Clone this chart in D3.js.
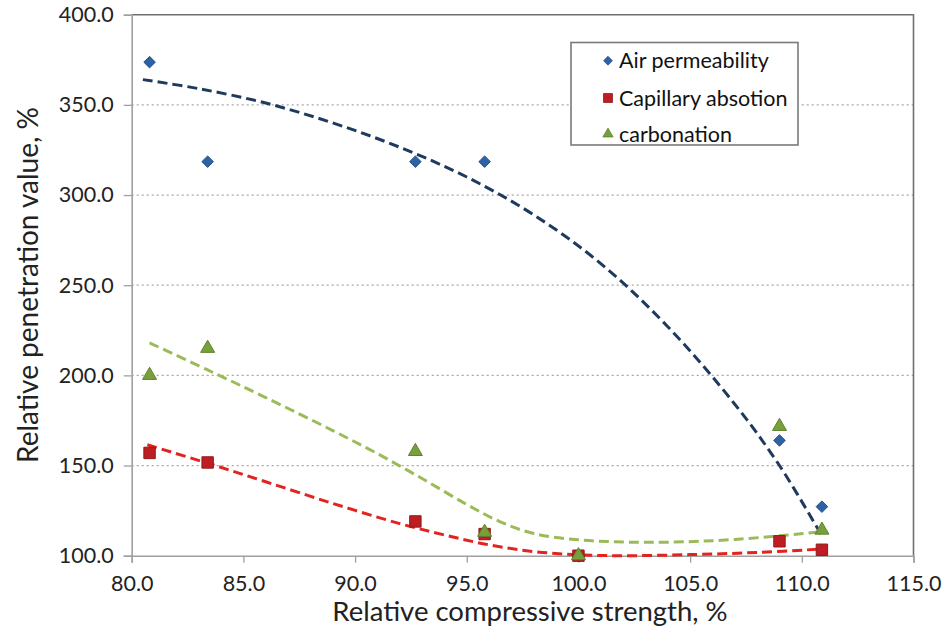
<!DOCTYPE html>
<html>
<head>
<meta charset="utf-8">
<script src="https://cdn.jsdelivr.net/npm/d3@7"></script>
<style>
  html, body { margin: 0; padding: 0; background: #fff; }
  svg { display: block; }
  text { font-family: Lato, "Open Sans", sans-serif; }
</style>
</head>
<body>
<svg id="chart" width="946" height="642"></svg>
<script>
// Relative compressive strength (%) for each mix
const strength = [80.8, 83.4, 92.7, 95.8, 100.0, 109.0, 110.9];

// Relative penetration values (%) per property
const airPermeability = [373.7, 318.5, 318.5, 318.5, 100.0, 163.9, 127.2];
const capillaryAbsorption = [157.0, 151.7, 119.0, 112.0, 100.0, 108.0, 103.3];
const carbonation = [200.0, 215.0, 157.8, 113.0, 100.0, 171.7, 114.2];

const seriesNames = ["Air permeability", "Capillary absotion", "carbonation"];

// Trendline values at sampled strengths
const airTrendX = [80.5, 83, 86, 89, 92, 95, 98, 101, 104, 107, 109, 110.9];
const airTrendY = [364, 359, 351, 340, 326.5, 310, 289, 262, 227, 184, 150, 111];
const capTrendX = [80.7, 83.4, 86, 89, 92, 94, 96, 98, 100, 102, 105, 108, 110.9];
const capTrendY = [161.5, 151.3, 141, 129, 117.8, 111.5, 106, 102.3, 100.5, 100, 100.6, 101.8, 103.7];
const carbTrendX = [80.8, 83.4, 86, 89, 91, 93, 95, 96.5, 98, 100, 102, 104, 107, 110.9];
const carbTrendY = [218, 203, 187.7, 169.4, 156.6, 142.8, 128.4, 118.8, 112.3, 108.8, 107.6, 107.5, 109, 113.3];

const xTicks = [80, 85, 90, 95, 100, 105, 110, 115];
const yTicks = [100, 150, 200, 250, 300, 350, 400];

const svg = d3.select("#chart");
const plot = { left: 131.7, right: 913.5, top: 14.7, bottom: 555.7 };

const x = d3.scaleLinear().domain([80, 115]).range([plot.left, plot.right]);
const y = d3.scaleLinear().domain([100, 400]).range([plot.bottom, plot.top]);

// Horizontal dotted gridlines
svg.append("g")
  .selectAll("line")
  .data(yTicks.filter(v => v > 100 && v < 400))
  .join("line")
  .attr("x1", plot.left).attr("x2", plot.right)
  .attr("y1", d => y(d)).attr("y2", d => y(d))
  .attr("stroke", "#a6a6a6").attr("stroke-width", 1.3)
  .attr("stroke-dasharray", "2,3");

// Plot frame: top and right edges
svg.append("path")
  .attr("d", `M${plot.left},${plot.top}H${plot.right}V${plot.bottom}`)
  .attr("fill", "none").attr("stroke", "#707070").attr("stroke-width", 1.6);

// Axes
const xAxis = svg.append("g")
  .attr("transform", `translate(0,${plot.bottom})`)
  .call(d3.axisBottom(x).tickValues(xTicks).tickFormat(d3.format(".1f")).tickSize(7).tickPadding(13));
const yAxis = svg.append("g")
  .attr("transform", `translate(${plot.left},0)`)
  .call(d3.axisLeft(y).tickValues(yTicks).tickFormat(d3.format(".1f")).tickSize(8).tickPadding(10));

[xAxis, yAxis].forEach(g => {
  g.select(".domain").attr("stroke", "#a0a0a0").attr("stroke-width", 1.6);
  g.selectAll(".tick line").attr("stroke", "#a0a0a0").attr("stroke-width", 1.3);
  g.selectAll(".tick text")
    .attr("fill", "#222")
    .style("font-family", "Lato, sans-serif")
    .style("font-size", "21.5px");
});

// Axis titles
svg.append("text")
  .attr("x", 530).attr("y", 621)
  .attr("text-anchor", "middle")
  .attr("fill", "#222")
  .style("font-size", "27.5px")
  .text("Relative compressive strength, %");
svg.append("text")
  .attr("transform", "translate(38,285) rotate(-90)")
  .attr("text-anchor", "middle")
  .attr("fill", "#222")
  .style("font-size", "28px")
  .text("Relative penetration value, %");

// Trendlines
const trends = [
  { xs: airTrendX, ys: airTrendY, color: "#1f3a5f" },
  { xs: carbTrendX, ys: carbTrendY, color: "#9bbb59" },
  { xs: capTrendX, ys: capTrendY, color: "#e2231f" }
];
const line = d3.line()
  .x(d => x(d[0])).y(d => y(d[1]))
  .curve(d3.curveCatmullRom.alpha(0.5));
trends.forEach(t => {
  svg.append("path")
    .attr("d", line(t.xs.map((v, i) => [v, t.ys[i]])))
    .attr("fill", "none")
    .attr("stroke", t.color)
    .attr("stroke-width", 3)
    .attr("stroke-dasharray", "10,5");
});

// Markers
const symTypes = { diamond: d3.symbolDiamond2, square: d3.symbolSquare, triangle: d3.symbolTriangle };
function drawPoints(values, shape, size, fill, stroke) {
  svg.append("g")
    .selectAll("path")
    .data(strength.map((v, i) => [v, values[i]]).filter(d => d[1] != null))
    .join("path")
    .attr("transform", d => `translate(${x(d[0])},${y(d[1])})`)
    .attr("d", d3.symbol().type(symTypes[shape]).size(size))
    .attr("fill", fill)
    .attr("stroke", stroke)
    .attr("stroke-width", 1);
}
drawPoints(airPermeability, "diamond", 85, "#2d63a6", "#244f86");
drawPoints(capillaryAbsorption, "square", 130, "#be1e23", "#8f1a1a");
drawPoints(carbonation, "triangle", 85, "#77a03a", "#5f8230");

// Legend
const legend = svg.append("g");
legend.append("rect")
  .attr("x", 571).attr("y", 42.5).attr("width", 227).attr("height", 102.5)
  .attr("fill", "#fff").attr("stroke", "#7a7a7a").attr("stroke-width", 1.6);
const legendShapes = [
  { shape: "diamond", fill: "#2d63a6", stroke: "#244f86", size: 50 },
  { shape: "square", fill: "#be1e23", stroke: "#8f1a1a", size: 80 },
  { shape: "triangle", fill: "#77a03a", stroke: "#5f8230", size: 45 }
];
const legendY = [60.7, 98, 134];
seriesNames.forEach((name, i) => {
  const s = legendShapes[i];
  legend.append("path")
    .attr("transform", `translate(608,${legendY[i]})`)
    .attr("d", d3.symbol().type(symTypes[s.shape]).size(s.size))
    .attr("fill", s.fill).attr("stroke", s.stroke).attr("stroke-width", 0.8);
  legend.append("text")
    .attr("x", 619).attr("y", legendY[i])
    .attr("dy", "0.36em")
    .attr("fill", "#111")
    .style("font-size", "21.5px")
    .text(name);
});
</script>
</body>
</html>
